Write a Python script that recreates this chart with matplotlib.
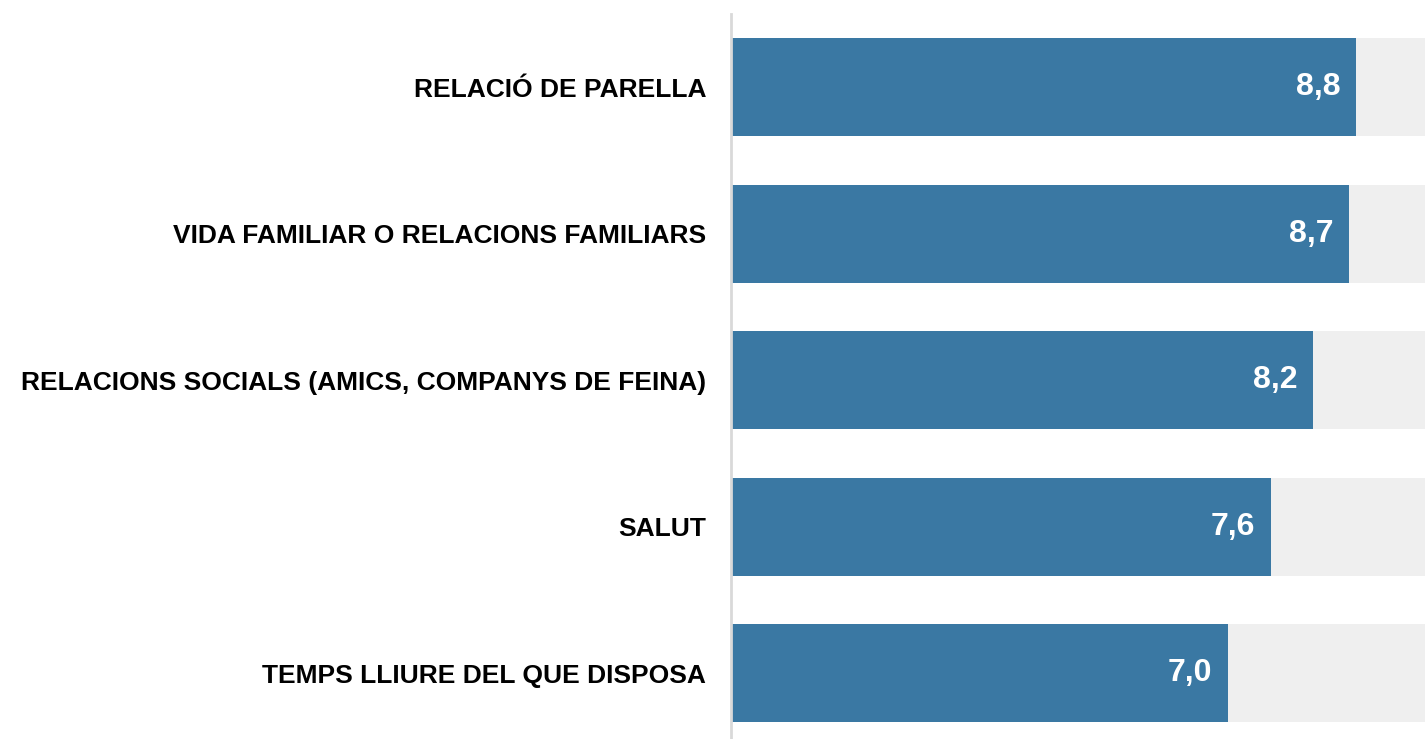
import matplotlib
matplotlib.use("Agg")
import matplotlib.pyplot as plt

plt.rcParams['font.family'] = ['Liberation Sans', 'DejaVu Sans']

categories = ["RELACIÓ DE PARELLA",
              "VIDA FAMILIAR O RELACIONS FAMILIARS",
              "RELACIONS SOCIALS (AMICS, COMPANYS DE FEINA)",
              "SALUT",
              "TEMPS LLIURE DEL QUE DISPOSA"]
values = [8.8, 8.7, 8.2, 7.6, 7.0]
max_value = 10

bar_color = "#3a78a3"
bg_color = "#efefef"

fig = plt.figure(figsize=(14.25, 7.39), dpi=100)
ax = fig.add_axes([731 / 1425, 0, 1 - 731 / 1425, 1 - 14 / 739])

y = list(range(len(categories)))
ax.barh(y, [max_value] * len(values), height=0.67, color=bg_color, zorder=1)
ax.barh(y, values, height=0.67, color=bar_color, zorder=2)

# value labels inside the bar end
for yi, v in zip(y, values):
    ax.text(v - 0.22, yi, "{:.1f}".format(v).replace(".", ","), ha="right", va="center",
            color="white", fontsize=23, fontweight="bold", zorder=3)

ax.set_xlim(0, 694 / 71)
ax.set_ylim(4.45, -0.5)
ax.set_yticks(y)
ax.set_yticklabels(categories, fontsize=19, fontweight="bold")
ax.tick_params(axis="y", length=0, pad=18)
ax.set_xticks([])

for s in ["top", "right", "bottom"]:
    ax.spines[s].set_visible(False)
ax.spines["left"].set_color("#d9d9d9")
ax.spines["left"].set_linewidth(2)
ax.spines["left"].set_zorder(4)

plt.savefig("out.png", dpi=100)
